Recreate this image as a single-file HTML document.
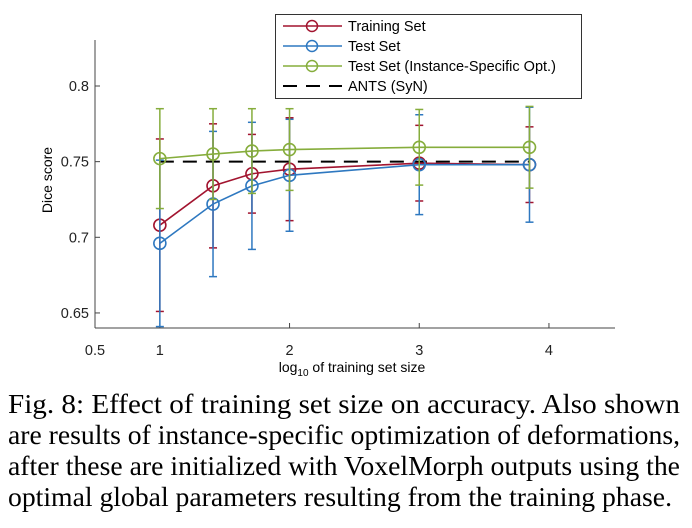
<!DOCTYPE html>
<html><head><meta charset="utf-8"><style>
body{margin:0;background:#fff;width:692px;height:528px;overflow:hidden}
svg{display:block}
text{font-family:"Liberation Sans",sans-serif}
.cap{font-family:"Liberation Serif",serif;font-size:27px;fill:#000}
</style></head><body>
<svg id="chart" width="692" height="528">
<defs><clipPath id="pc"><rect x="95" y="40" width="520" height="288"/></clipPath></defs>
<g id="axes"></g>
<g id="marks" clip-path="url(#pc)"></g>
<g>
<rect x="275.5" y="14.5" width="306" height="84" fill="#fff" stroke="#333" stroke-width="1"/>
<g><line x1="283" y1="26" x2="342" y2="26" stroke="#a2142f" stroke-width="1.5"/><circle cx="312" cy="26" r="5.5" fill="none" stroke="#a2142f" stroke-width="1.5"/><text x="348" y="31" font-size="14.5">Training Set</text></g>
<g><line x1="283" y1="46" x2="342" y2="46" stroke="#2e78c0" stroke-width="1.5"/><circle cx="312" cy="46" r="5.5" fill="none" stroke="#2e78c0" stroke-width="1.5"/><text x="348" y="51" font-size="14.5">Test Set</text></g>
<g><line x1="283" y1="66" x2="342" y2="66" stroke="#86ad3c" stroke-width="1.5"/><circle cx="312" cy="66" r="5.5" fill="none" stroke="#86ad3c" stroke-width="1.5"/><text x="348" y="71" font-size="14.5">Test Set (Instance-Specific Opt.)</text></g>
<g><line x1="283" y1="86" x2="342" y2="86" stroke="#000" stroke-width="2" stroke-dasharray="14,9"/><text x="348" y="91" font-size="14.5">ANTS (SyN)</text></g>
</g>
<text x="52" y="180" font-size="14" text-anchor="middle" transform="rotate(-90 52 180)">Dice score</text>
<text x="352" y="372" font-size="14" text-anchor="middle">log<tspan font-size="10" dy="4">10</tspan><tspan dy="-4"> of training set size</tspan></text>
<g>
<text class="cap" x="8" y="413" textLength="672" lengthAdjust="spacingAndGlyphs">Fig. 8: Effect of training set size on accuracy. Also shown</text>
<text class="cap" x="8" y="444" textLength="672" lengthAdjust="spacingAndGlyphs">are results of instance-specific optimization of deformations,</text>
<text class="cap" x="8" y="475" textLength="672" lengthAdjust="spacingAndGlyphs">after these are initialized with VoxelMorph outputs using the</text>
<text class="cap" x="8" y="506" textLength="664" lengthAdjust="spacingAndGlyphs">optimal global parameters resulting from the training phase.</text>
</g>
</svg>
<script>
const xs = [1, 1.41, 1.71, 2, 3, 3.85];
const trainMean = [0.708, 0.734, 0.742, 0.745, 0.749, 0.748];
const trainStd = [0.057, 0.041, 0.026, 0.034, 0.025, 0.025];
const testMean = [0.696, 0.722, 0.734, 0.741, 0.748, 0.748];
const testStd = [0.055, 0.048, 0.042, 0.037, 0.033, 0.038];
const optMean = [0.752, 0.755, 0.757, 0.758, 0.7595, 0.7595];
const optStd = [0.033, 0.030, 0.028, 0.027, 0.025, 0.027];
const antsValue = 0.75;
const xTicks = [0.5, 1, 2, 3, 4];
const xTickLabels = ["0.5", "1", "2", "3", "4"];
const yTicks = [0.65, 0.7, 0.75, 0.8];
const yTickLabels = ["0.65", "0.7", "0.75", "0.8"];

const NS = "http://www.w3.org/2000/svg";
const X = v => 95 + (v - 0.5) * 129.7;
const Y = v => 86 + (0.8 - v) * 1513;
function mk(tag, attrs, parent) {
  const e = document.createElementNS(NS, tag);
  for (const k in attrs) e.setAttribute(k, attrs[k]);
  parent.appendChild(e);
  return e;
}
const axes = document.getElementById('axes');
const marks = document.getElementById('marks');
let a = mk('line', {x1: 95, y1: 40, x2: 95, y2: 328, stroke: '#444', 'stroke-width': 1}, axes);


a = mk('line', {x1: 95, y1: 328, x2: 615, y2: 328, stroke: '#444', 'stroke-width': 1}, axes);


xTicks.forEach((t, i) => {
  const tk = mk('line', {x1: X(t), y1: 328, x2: X(t), y2: 323, stroke: '#444'}, axes);
  
  
  const tl = mk('text', {x: X(t), y: 355, 'font-size': 14.5, 'text-anchor': 'middle', fill: '#222'}, axes);
  tl.textContent = xTickLabels[i];
  
  
});
yTicks.forEach((t, i) => {
  const tk = mk('line', {x1: 95, y1: Y(t), x2: 100, y2: Y(t), stroke: '#444'}, axes);
  
  
  const tl = mk('text', {x: 89, y: Y(t) + 5, 'font-size': 14.5, 'text-anchor': 'end', fill: '#222'}, axes);
  tl.textContent = yTickLabels[i];
  
  
});
const ants = mk('line', {x1: X(xs[0]), y1: Y(antsValue), x2: X(xs[xs.length - 1]), y2: Y(antsValue), stroke: '#000', 'stroke-width': 2, 'stroke-dasharray': '14,9'}, marks);


function series(name, mean, std, color) {
  const g = mk('g', {}, marks);
  
  
  xs.forEach((x, i) => {
    const eb = mk('g', {stroke: color, 'stroke-width': 1.5}, g);
    
    
    const hi = Y(mean[i] + std[i]), lo = Y(mean[i] - std[i]);
    mk('line', {x1: X(x), y1: hi, x2: X(x), y2: lo}, eb);
    mk('line', {x1: X(x) - 4, y1: hi, x2: X(x) + 4, y2: hi}, eb);
    mk('line', {x1: X(x) - 4, y1: lo, x2: X(x) + 4, y2: lo}, eb);
  });
  const p = mk('polyline', {points: xs.map((x, i) => X(x) + ',' + Y(mean[i])).join(' '), fill: 'none', stroke: color, 'stroke-width': 1.6}, g);
  
  
  xs.forEach((x, i) => {
    const c = mk('circle', {cx: X(x), cy: Y(mean[i]), r: 6, fill: 'none', stroke: color, 'stroke-width': 1.6}, g);
    
    
  });
}
series('training', trainMean, trainStd, '#a2142f');
series('test', testMean, testStd, '#2e78c0');
series('instance-opt', optMean, optStd, '#86ad3c');
</script>
</body></html>
